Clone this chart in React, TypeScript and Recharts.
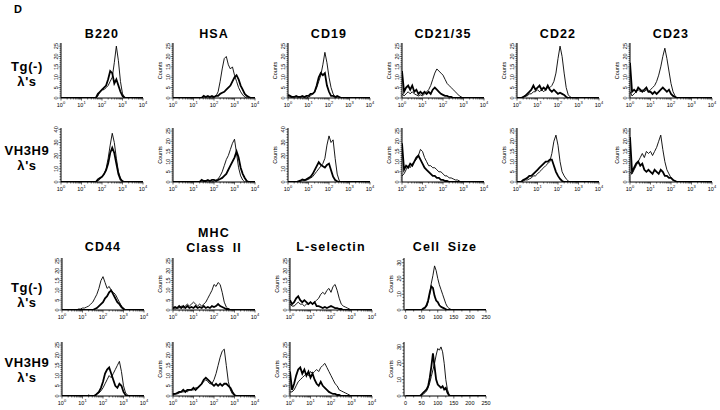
import React from 'react';
import { LineChart, Line, XAxis, YAxis } from 'recharts';

// bin centres: log10 fluorescence (0..4) and forward scatter channel (0..250)
const LOG_BINS = [0, 0.1, 0.2, 0.3, 0.4, 0.5, 0.6, 0.7, 0.8, 0.9, 1, 1.1, 1.2, 1.3, 1.4, 1.5, 1.6, 1.7, 1.8, 1.9, 2, 2.1, 2.2, 2.3, 2.4, 2.5, 2.6, 2.7, 2.8, 2.9, 3, 3.1, 3.2, 3.3, 3.4, 3.5, 3.6, 3.7, 3.8, 3.9, 4];
const SIZE_BINS = [0, 5, 10, 15, 20, 25, 30, 35, 40, 45, 50, 55, 60, 65, 70, 75, 80, 85, 90, 95, 100, 105, 110, 115, 120, 125, 130, 135, 140, 145, 150, 155, 160, 165, 170, 175, 180, 185, 190, 195, 200, 205, 210, 215, 220, 225, 230, 235, 240, 245, 250];

// ---- Tg(-) lambda's (thin = control, thick = stained) ----
const B220_TG_THIN = [0, 0, 0, 0, 0, 0, 0, 0, 0, 0, 0, 0, 0, 0, 0, 0, 0, 0, 1, 3, 4, 4, 5, 6, 8, 10, 17, 25, 18, 8, 2, 0.5, 0, 0, 0, 0, 0, 0, 0, 0, 0];
const B220_TG_THICK = [0, 0, 0, 0, 0, 0, 0, 0, 0, 0, 0, 0, 0, 0, 0, 0, 0, 0, 2, 3, 4, 5, 6, 9, 13, 12, 7, 9, 6, 3, 1, 0, 0, 0, 0, 0, 0, 0, 0, 0, 0];
const HSA_TG_THIN = [0, 0, 0, 0, 0, 0, 0, 0, 0, 0, 0, 0, 0, 0, 0, 0, 0, 0, 0, 0, 0.5, 1, 3, 8, 14, 19, 20, 16, 14, 15, 11, 8, 5, 3, 1.5, 0.5, 0, 0, 0, 0, 0];
const HSA_TG_THICK = [0, 0, 0, 0, 0, 0, 0, 0, 0, 0, 0, 0, 0, 0, 0, 1, 0.5, 1, 0.5, 1, 0.5, 1, 1, 2, 2.5, 3, 4, 5, 6, 8, 10, 11, 9, 6, 4, 2, 1, 0.5, 0, 0, 0];
const CD19_TG_THIN = [0.5, 0.5, 0, 0, 0, 0, 0, 0, 0, 0, 0.5, 1, 2, 3, 5, 8, 11, 16, 22, 17, 10, 5, 2, 0.5, 0, 0, 0, 0, 0, 0, 0, 0, 0, 0, 0, 0, 0, 0, 0, 0, 0];
const CD19_TG_THICK = [1.5, 1, 0.5, 0.5, 1, 0.5, 0.5, 1, 0.5, 1, 1, 2, 2, 3, 6, 10, 12, 11, 12, 6, 3, 1, 1, 0.5, 1, 0.5, 0, 0, 0, 0, 0, 0, 0, 0, 0, 0, 0, 0, 0, 0, 0];
const CD21_TG_THIN = [2, 1, 2, 3, 2, 3, 2, 1.5, 1, 1.5, 1, 2, 3, 4, 6, 9, 12, 14, 13, 12, 11, 9, 7, 6, 5, 4, 3, 2, 1, 0.5, 0, 0, 0, 0, 0, 0, 0, 0, 0, 0, 0];
const CD21_TG_THICK = [13, 3, 5, 6, 4, 6, 3, 4, 2, 3, 2, 3, 2, 3, 2, 4, 5, 4, 3, 2, 1.5, 1, 1, 0.5, 0.5, 0, 0, 0, 0, 0, 0, 0, 0, 0, 0, 0, 0, 0, 0, 0, 0];
const CD22_TG_THIN = [0, 0, 0, 0.5, 1, 1, 2, 2, 3, 3, 4, 3, 4, 3, 4, 5, 5, 6, 8, 12, 19, 25, 20, 12, 5, 1.5, 0.5, 0, 0, 0, 0, 0, 0, 0, 0, 0, 0, 0, 0, 0, 0];
const CD22_TG_THICK = [0, 0, 0, 0.5, 1, 2, 3, 4, 6, 4, 5, 6, 4, 5, 4, 6, 4, 3, 4, 3, 2, 2.5, 2, 1.5, 0.5, 0, 0, 0, 0, 0, 0, 0, 0, 0, 0, 0, 0, 0, 0, 0, 0];
const CD23_TG_THIN = [3, 1, 2, 3, 4, 3, 4, 3, 4, 3, 4, 5, 6, 8, 11, 15, 20, 24, 19, 13, 7, 3, 1, 0, 0, 0, 0, 0, 0, 0, 0, 0, 0, 0, 0, 0, 0, 0, 0, 0, 0];
const CD23_TG_THICK = [17, 3, 4, 3, 5, 4, 3, 4, 5, 3, 3, 2, 3, 2, 3, 4, 5, 4, 3, 4, 2, 1, 0.5, 0, 0, 0, 0, 0, 0, 0, 0, 0, 0, 0, 0, 0, 0, 0, 0, 0, 0];

// ---- VH3H9 lambda's ----
const B220_VH_THIN = [0, 0, 0, 0, 0, 0, 0, 0, 0, 0, 0, 0, 0, 0, 0, 0, 0, 0, 1, 2, 4, 6, 10, 18, 28, 37, 30, 18, 8, 3, 1, 0, 0, 0, 0, 0, 0, 0, 0, 0, 0];
const B220_VH_THICK = [0, 0, 0, 0, 0, 0, 0, 0, 0, 0, 0, 0, 0, 0, 0, 0, 0, 0, 2, 3, 4, 6, 9, 14, 22, 26, 22, 14, 6, 2, 0.5, 0, 0, 0, 0, 0, 0, 0, 0, 0, 0];
const HSA_VH_THIN = [0, 0, 0, 0, 0, 0, 0, 0, 0, 0, 0, 0, 0, 0, 0, 0, 0, 0, 0, 0, 0.5, 1, 1.5, 3, 5, 8, 11, 13, 16, 19, 21, 14, 7, 3, 1, 0, 0, 0, 0, 0, 0];
const HSA_VH_THICK = [0, 0, 0, 0, 0, 0, 0, 0, 0, 0, 0, 0, 0, 0, 1, 0.5, 0.5, 1, 0.5, 1, 1, 0.5, 1, 1.5, 2, 3, 4, 6, 8, 10, 12, 15, 12, 7, 4, 2, 0.5, 0, 0, 0, 0];
const CD19_VH_THIN = [0, 0, 0, 0, 0, 0, 0.5, 1, 1, 1.5, 2, 3, 4, 6, 8, 10, 12, 14, 18, 28, 35, 30, 32, 18, 6, 1, 0, 0, 0, 0, 0, 0, 0, 0, 0, 0, 0, 0, 0, 0, 0];
const CD19_VH_THICK = [0, 0, 0, 0, 0, 0.5, 1, 2, 1.5, 2, 3, 4, 6, 9, 12, 15, 13, 12, 11, 13, 14, 9, 4, 1.5, 0.5, 0, 0, 0, 0, 0, 0, 0, 0, 0, 0, 0, 0, 0, 0, 0, 0];
const CD21_VH_THIN = [3, 4, 6, 8, 7, 9, 10, 11, 13, 16, 15, 12, 10, 8, 8, 7, 7, 6, 5, 5, 4, 3, 3, 2, 2, 1.5, 1, 1, 0.5, 0, 0, 0, 0, 0, 0, 0, 0, 0, 0, 0, 0];
const CD21_VH_THICK = [19, 6, 8, 7, 9, 8, 10, 12, 13, 11, 9, 7, 6, 5, 4, 3, 3, 2, 2, 1, 1, 0.5, 0.5, 0, 0, 0, 0, 0, 0, 0, 0, 0, 0, 0, 0, 0, 0, 0, 0, 0, 0];
const CD22_VH_THIN = [0, 0, 0, 0.5, 1, 1, 1.5, 2, 3, 3, 4, 5, 6, 7, 8, 9, 10, 14, 20, 23, 18, 10, 5, 3, 1.5, 0.5, 0, 0, 0, 0, 0, 0, 0, 0, 0, 0, 0, 0, 0, 0, 0];
const CD22_VH_THICK = [0, 0, 0, 1, 1.5, 2, 3, 3, 4, 5, 6, 7, 8, 9, 10, 10, 11, 11, 8, 5, 3, 1.5, 0.5, 0, 0, 0, 0, 0, 0, 0, 0, 0, 0, 0, 0, 0, 0, 0, 0, 0, 0];
const CD23_VH_THIN = [5, 4, 6, 8, 10, 12, 14, 12, 15, 14, 15, 13, 15, 17, 20, 23, 16, 10, 6, 4, 2, 1, 0.5, 0, 0, 0, 0, 0, 0, 0, 0, 0, 0, 0, 0, 0, 0, 0, 0, 0, 0];
const CD23_VH_THICK = [22, 5, 7, 9, 10, 8, 9, 6, 5, 6, 5, 4, 6, 5, 4, 6, 5, 3, 3, 2, 2, 1, 0.5, 0, 0, 0, 0, 0, 0, 0, 0, 0, 0, 0, 0, 0, 0, 0, 0, 0, 0];

// ---- second block, Tg(-) ----
const CD44_TG_THIN = [0, 0, 0, 0, 0, 0, 0, 0, 0.5, 0.5, 1, 1, 1.5, 2, 3, 4, 6, 8, 11, 15, 17, 14, 11, 12, 10, 9, 8, 6, 4, 2, 1, 0, 0, 0, 0, 0, 0, 0, 0, 0, 0];
const CD44_TG_THICK = [0, 0, 0, 0, 0, 0, 0, 0, 0, 0, 0, 0, 0, 0, 0, 0, 0.5, 1, 2, 3, 4, 6, 7, 9, 10, 8, 6, 4, 3, 1.5, 0.5, 0, 0, 0, 0, 0, 0, 0, 0, 0, 0];
const MHC_TG_THIN = [1, 0.5, 1, 1, 2, 1, 2, 3, 2, 3, 4, 3, 2, 3, 2, 3, 4, 6, 8, 10, 13, 12, 14, 13, 9, 4, 1.5, 0.5, 0, 0, 0, 0, 0, 0, 0, 0, 0, 0, 0, 0, 0];
const MHC_TG_THICK = [1, 1.5, 1, 2, 1, 2, 1, 2, 1, 1.5, 1, 2, 1, 1.5, 1, 2, 1, 1.5, 1, 2, 1.5, 2, 3, 2, 1.5, 1, 0.5, 0.5, 0, 0, 0, 0, 0, 0, 0, 0, 0, 0, 0, 0, 0];
const LSEL_TG_THIN = [3, 2, 2, 3, 4, 3, 3, 2, 3, 3, 4, 3, 4, 5, 6, 8, 9, 8, 10, 11, 9, 12, 13, 10, 6, 3, 2, 1.5, 1, 0.5, 0, 0, 0, 0, 0, 0, 0, 0, 0, 0, 0];
const LSEL_TG_THICK = [5, 3, 4, 6, 7, 5, 4, 5, 4, 3, 4, 3, 4, 2, 2, 1.5, 1, 1.5, 1, 1.5, 2, 1.5, 1, 1, 0.5, 0.5, 0, 0, 0, 0, 0, 0, 0, 0, 0, 0, 0, 0, 0, 0, 0];
const SIZE_TG_THIN = [0, 0, 0, 0, 0, 0, 0, 0, 0, 0, 0, 0.5, 1, 2, 5, 10, 17, 22, 28, 25, 20, 16, 13, 10, 7, 4, 2, 1, 0.5, 0, 0, 0, 0, 0, 0, 0, 0, 0, 0, 0, 0, 0, 0, 0, 0, 0, 0, 0, 0, 0, 0];
const SIZE_TG_THICK = [0, 0, 0, 0, 0, 0, 0, 0, 0, 0, 0, 1, 1.5, 3, 6, 11, 15, 14, 9, 6, 5, 3, 2, 1.5, 1, 0.5, 0, 0, 0, 0, 0, 0, 0, 0, 0, 0, 0, 0, 0, 0, 0, 0, 0, 0, 0, 0, 0, 0, 0, 0, 0];

// ---- second block, VH3H9 ----
const CD44_VH_THIN = [0, 0, 0, 0, 0, 0, 0, 0, 0, 0, 0, 0, 0, 0.5, 0, 0, 0.5, 1, 1.5, 2.5, 4, 6, 8, 10, 9, 11, 13, 15, 17, 12, 5, 1.5, 0.5, 0, 0, 0, 0, 0, 0, 0, 0];
const CD44_VH_THICK = [0, 0, 0, 0, 0, 0, 0, 0, 0, 0, 0, 0, 0, 0, 0, 0, 0, 1, 2, 4, 7, 11, 13, 14, 11, 8, 5, 4, 6, 5, 2, 0.5, 0, 0, 0, 0, 0, 0, 0, 0, 0];
const MHC_VH_THIN = [0.5, 1, 1, 1.5, 2, 2, 2.5, 2, 3, 3, 3, 4, 4, 5, 6, 7, 8, 7, 6, 6, 8, 11, 15, 19, 22, 23, 15, 7, 3, 1, 0.5, 0, 0, 0, 0, 0, 0, 0, 0, 0, 0];
const MHC_VH_THICK = [1, 1, 1.5, 2, 2, 3, 2, 3, 3, 3, 4, 3, 4, 5, 6, 8, 9, 8, 7, 6, 5, 6, 5, 6, 5, 6, 6, 5, 4, 2, 0.5, 0, 0, 0, 0, 0, 0, 0, 0, 0, 0];
const LSEL_VH_THIN = [2, 2, 3, 5, 7, 8, 9, 10, 11, 10, 12, 11, 12, 13, 12, 14, 15, 16, 14, 12, 10, 8, 6, 5, 3, 2.5, 2, 1.5, 1, 0.5, 0, 0, 0, 0, 0, 0, 0, 0, 0, 0, 0];
const LSEL_VH_THICK = [12, 3, 6, 10, 13, 14, 11, 13, 10, 12, 9, 11, 8, 6, 5, 7, 5, 4, 3, 2, 1.5, 1, 1, 0.5, 0.5, 0, 0, 0, 0, 0, 0, 0, 0, 0, 0, 0, 0, 0, 0, 0, 0];
const SIZE_VH_THIN = [0, 0, 0, 0, 0, 0, 0, 0, 0, 0, 0.5, 1, 2, 3, 5, 8, 12, 16, 20, 25, 29, 28, 30, 27, 20, 10, 4, 1, 0, 0, 0, 0, 0, 0, 0, 0, 0, 0, 0, 0, 0, 0, 0, 0, 0, 0, 0, 0, 0, 0, 0];
const SIZE_VH_THICK = [0, 0, 0, 0, 0, 0, 0, 0, 0, 0, 1, 2, 3, 4, 6, 11, 18, 26, 18, 10, 7, 6, 5, 6, 4, 5, 2, 0.5, 0, 0, 0, 0, 0, 0, 0, 0, 0, 0, 0, 0, 0, 0, 0, 0, 0, 0, 0, 0, 0, 0, 0];

// axis scales
const Y25 = { max: 26.5, major: [0, 5, 10, 15, 20, 25], minor: 1 };
const Y40 = { max: 41, major: [0, 10, 20, 30, 40], minor: 2 };
const Y30 = { max: 33, major: [0, 10, 20, 30], minor: 2 };

const LOG_TICKS: number[] = [0, 1, 2, 3, 4];
for (let d = 0; d < 4; d++) for (let k = 2; k < 10; k++) LOG_TICKS.push(d + Math.log10(k));
const SIZE_TICKS = [0, 25, 50, 75, 100, 125, 150, 175, 200, 225, 250];

const FONT = '"Liberation Sans", Arial, Helvetica, sans-serif';
const PLOT_W = 82;
const PAD_L = 30;
const PAD_T = 3;
const PAD_R = 9;
const PAD_B = 14;

type Scale = { max: number; major: number[]; minor: number };
type PanelProps = {
  left: number;
  top: number;
  height: number;
  thin: number[];
  thick: number[];
  y: Scale;
  size?: boolean;
};

function Panel({ left, top, height, thin, thick, y, size }: PanelProps) {
  const bins = size ? SIZE_BINS : LOG_BINS;
  const data = bins.map((x, i) => ({ x, thin: thin[i], thick: thick[i] }));
  const xDomain = size ? [-5, 250] : [0, 4];
  const yTicks: number[] = [];
  for (let v = 0; v <= y.max; v += y.minor) yTicks.push(v);

  const xTick = (props: any) => {
    const v = props.payload.value;
    const major = size ? v % 50 === 0 : Math.abs(v - Math.round(v)) < 1e-6;
    return (
      <g>
        <line x1={props.x} x2={props.x} y1={props.y} y2={props.y + (major ? 2.5 : 1.5)} stroke="#000" strokeWidth={0.6} />
        {major && (
          <text x={props.x} y={props.y + 9} textAnchor="middle" fontSize={5.5} fontFamily={FONT} fill="#000">
            {size ? v : '10'}
            {!size && <tspan dy={-2.6} fontSize={4}>{Math.round(v)}</tspan>}
          </text>
        )}
      </g>
    );
  };

  const yTick = (props: any) => {
    const v = props.payload.value;
    const major = y.major.includes(v);
    return (
      <g>
        <line x1={props.x - (major ? 2.5 : 1.5)} x2={props.x} y1={props.y} y2={props.y} stroke="#000" strokeWidth={0.6} />
        {major && (
          <text
            transform={`translate(${props.x - 3},${props.y}) rotate(-90)`}
            textAnchor="middle"
            fontSize={5.5}
            fontFamily={FONT}
            fill="#000"
          >
            {v}
          </text>
        )}
      </g>
    );
  };

  const frame = { stroke: '#000', strokeWidth: 1 };

  return (
    <div style={{ position: 'absolute', left: left - PAD_L, top: top - PAD_T }}>
      <LineChart
        width={PLOT_W + PAD_L + PAD_R}
        height={height + PAD_T + PAD_B}
        data={data}
        margin={{ top: PAD_T, right: PAD_R, bottom: 0, left: 0 }}
      >
        <XAxis
          dataKey="x"
          type="number"
          domain={xDomain}
          ticks={size ? SIZE_TICKS : LOG_TICKS}
          interval={0}
          tickLine={false}
          tickSize={0}
          tickMargin={0}
          tick={xTick}
          height={PAD_B}
          axisLine={frame}
          allowDataOverflow
        />
        <XAxis xAxisId="top" orientation="top" dataKey="x" type="number" domain={xDomain} height={0} tick={false} tickLine={false} axisLine={frame} />
        <YAxis
          type="number"
          domain={[0, y.max]}
          ticks={yTicks}
          interval={0}
          tickLine={false}
          tickSize={0}
          tickMargin={0}
          tick={yTick}
          width={PAD_L}
          axisLine={frame}
          allowDataOverflow
        />
        <YAxis yAxisId="right" orientation="right" type="number" domain={[0, y.max]} width={0} tick={false} tickLine={false} axisLine={frame} />
        <Line type="linear" dataKey="thin" stroke="#000" strokeWidth={0.9} dot={false} isAnimationActive={false} />
        <Line type="linear" dataKey="thick" stroke="#000" strokeWidth={1.8} dot={false} isAnimationActive={false} />
      </LineChart>
    </div>
  );
}

const TOP_COLS = [61, 173, 288, 402, 517, 630];
const BOT_COLS = [62, 173, 290, 404];
const ROWS = [
  { top: 43, height: 55 },
  { top: 128, height: 54 },
  { top: 258, height: 52 },
  { top: 342, height: 54 },
];

const TOP_TITLES = ['B220', 'HSA', 'CD19', 'CD21/35', 'CD22', 'CD23'];
const BOT_TITLES = ['CD44', 'MHC', 'L-selectin', 'Cell Size'];

const PANELS: PanelProps[] = [
  { left: TOP_COLS[0], ...ROWS[0], thin: B220_TG_THIN, thick: B220_TG_THICK, y: Y25 },
  { left: TOP_COLS[1], ...ROWS[0], thin: HSA_TG_THIN, thick: HSA_TG_THICK, y: Y25 },
  { left: TOP_COLS[2], ...ROWS[0], thin: CD19_TG_THIN, thick: CD19_TG_THICK, y: Y25 },
  { left: TOP_COLS[3], ...ROWS[0], thin: CD21_TG_THIN, thick: CD21_TG_THICK, y: Y25 },
  { left: TOP_COLS[4], ...ROWS[0], thin: CD22_TG_THIN, thick: CD22_TG_THICK, y: Y25 },
  { left: TOP_COLS[5], ...ROWS[0], thin: CD23_TG_THIN, thick: CD23_TG_THICK, y: Y25 },
  { left: TOP_COLS[0], ...ROWS[1], thin: B220_VH_THIN, thick: B220_VH_THICK, y: Y40 },
  { left: TOP_COLS[1], ...ROWS[1], thin: HSA_VH_THIN, thick: HSA_VH_THICK, y: Y25 },
  { left: TOP_COLS[2], ...ROWS[1], thin: CD19_VH_THIN, thick: CD19_VH_THICK, y: Y40 },
  { left: TOP_COLS[3], ...ROWS[1], thin: CD21_VH_THIN, thick: CD21_VH_THICK, y: Y25 },
  { left: TOP_COLS[4], ...ROWS[1], thin: CD22_VH_THIN, thick: CD22_VH_THICK, y: Y25 },
  { left: TOP_COLS[5], ...ROWS[1], thin: CD23_VH_THIN, thick: CD23_VH_THICK, y: Y25 },
  { left: BOT_COLS[0], ...ROWS[2], thin: CD44_TG_THIN, thick: CD44_TG_THICK, y: Y25 },
  { left: BOT_COLS[1], ...ROWS[2], thin: MHC_TG_THIN, thick: MHC_TG_THICK, y: Y25 },
  { left: BOT_COLS[2], ...ROWS[2], thin: LSEL_TG_THIN, thick: LSEL_TG_THICK, y: Y25 },
  { left: BOT_COLS[3], ...ROWS[2], thin: SIZE_TG_THIN, thick: SIZE_TG_THICK, y: Y30, size: true },
  { left: BOT_COLS[0], ...ROWS[3], thin: CD44_VH_THIN, thick: CD44_VH_THICK, y: Y25 },
  { left: BOT_COLS[1], ...ROWS[3], thin: MHC_VH_THIN, thick: MHC_VH_THICK, y: Y25 },
  { left: BOT_COLS[2], ...ROWS[3], thin: LSEL_VH_THIN, thick: LSEL_VH_THICK, y: Y25 },
  { left: BOT_COLS[3], ...ROWS[3], thin: SIZE_VH_THIN, thick: SIZE_VH_THICK, y: Y30, size: true },
];

const title = { fontFamily: FONT, fontWeight: 700, fontSize: 12.5, letterSpacing: 1.1, fill: '#000' } as const;
const rowLabel = { fontFamily: FONT, fontWeight: 700, fontSize: 13, letterSpacing: 0.6, fill: '#000' } as const;

function RowLabel({ y, name }: { y: number; name: string }) {
  return (
    <g>
      <text x={27} y={y} textAnchor="middle" style={rowLabel}>{name}</text>
      <text x={27} y={y + 14.5} textAnchor="middle" style={rowLabel}>λ's</text>
    </g>
  );
}

export default function App() {
  return (
    <div style={{ position: 'absolute', left: 0, top: 0, width: 720, height: 410, background: '#fff', overflow: 'hidden' }}>
      {PANELS.map((p, i) => (
        <Panel key={i} {...p} />
      ))}
      <svg width={720} height={410} style={{ position: 'absolute', left: 0, top: 0, pointerEvents: 'none' }}>
        <text x={14} y={13} style={{ ...title, fontSize: 11, letterSpacing: 0 }}>D</text>
        {TOP_TITLES.map((t, i) => (
          <text key={t} x={TOP_COLS[i] + 41} y={38} textAnchor="middle" style={title}>{t}</text>
        ))}
        {BOT_TITLES.map((t, i) =>
          t === 'MHC' ? (
            <g key={t}>
              <text x={BOT_COLS[i] + 41} y={237} textAnchor="middle" style={title}>MHC</text>
              <text x={BOT_COLS[i] + 41} y={252} textAnchor="middle" style={{ ...title, wordSpacing: 3 }}>Class II</text>
            </g>
          ) : (
            <text key={t} x={BOT_COLS[i] + 41} y={251} textAnchor="middle" style={{ ...title, wordSpacing: 3 }}>{t}</text>
          )
        )}
        <RowLabel y={71} name="Tg(-)" />
        <RowLabel y={155} name="VH3H9" />
        <RowLabel y={292} name="Tg(-)" />
        <RowLabel y={367} name="VH3H9" />
        {PANELS.filter((p) => p.left !== TOP_COLS[0] && p.left !== BOT_COLS[0]).map((p, i) => (
          <text
            key={i}
            transform={`translate(${p.left - 11},${p.top + p.height / 2}) rotate(-90)`}
            textAnchor="middle"
            fontSize={5.5}
            fontFamily={FONT}
            fill="#000"
          >
            Counts
          </text>
        ))}
      </svg>
    </div>
  );
}
